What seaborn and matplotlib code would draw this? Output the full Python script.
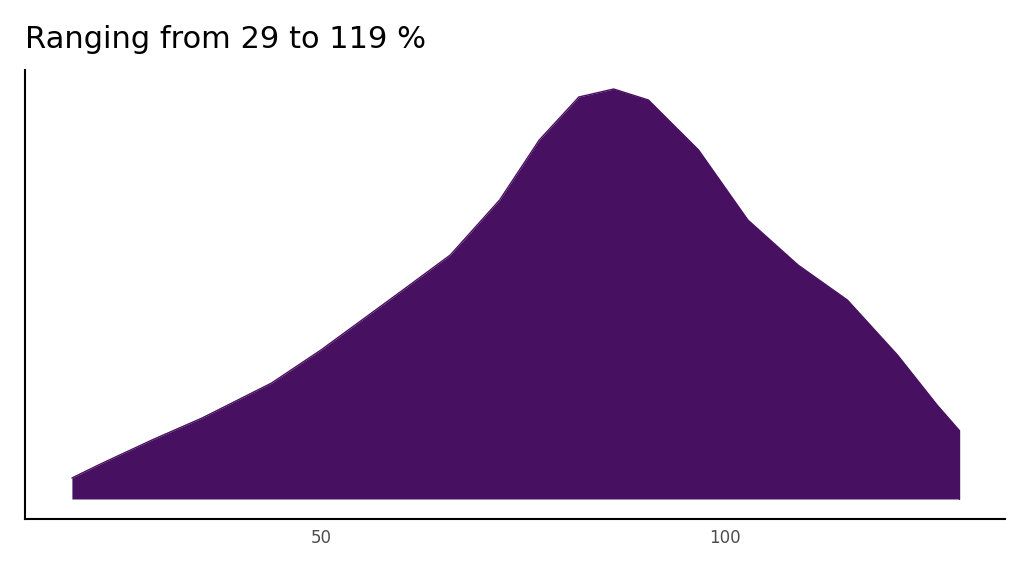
import matplotlib
matplotlib.use("Agg")
import matplotlib.pyplot as plt
import seaborn as sns
import pandas as pd

x_vals = [19.2, 23.0, 29.1, 35.3, 43.9, 50.0, 59.8, 66.0, 72.1, 77.0, 81.9, 86.2,
          90.5, 96.7, 102.8, 109.0, 115.1, 121.3, 126.2, 128.9]
density = [21, 36, 59, 81, 116, 149, 207, 244, 299, 359, 402, 410,
           399, 349, 279, 234, 199, 144, 94, 69]
x_ticks = [50, 100]
title = "Ranging from 29 to 119 %"

sns.set_style("white")
fig = plt.figure(figsize=(10.24, 5.76), dpi=100)
ax = fig.add_axes([25/1024, 1-519/576, 980/1024, 449/576])
df = pd.DataFrame({"x": x_vals, "y": density})
sns.lineplot(data=df, x="x", y="y", ax=ax, color="#481060", linewidth=1)
ax.fill_between(df["x"], 0, df["y"], color="#481060", linewidth=0)
ax.plot([x_vals[-1], x_vals[-1]], [0, density[-1]], color="#481060", lw=1)
ax.set_xlim(13.4, 134.6)
ax.set_ylim(-20, 429)
ax.set_xticks(x_ticks)
ax.set_xticklabels([str(t) for t in x_ticks], fontsize=12, color="#4d4d4d")
ax.set_yticks([])
ax.set_xlabel("")
ax.set_ylabel("")
ax.tick_params(axis="x", length=4, color="#333333")
for s in ["top", "right"]:
    ax.spines[s].set_visible(False)
for s in ["left", "bottom"]:
    ax.spines[s].set_color("black")
    ax.spines[s].set_linewidth(1.5)
fig.text(25/1024, 1-48/576, title, fontsize=22, color="black", va="baseline")
fig.savefig("out.png", dpi=100)
